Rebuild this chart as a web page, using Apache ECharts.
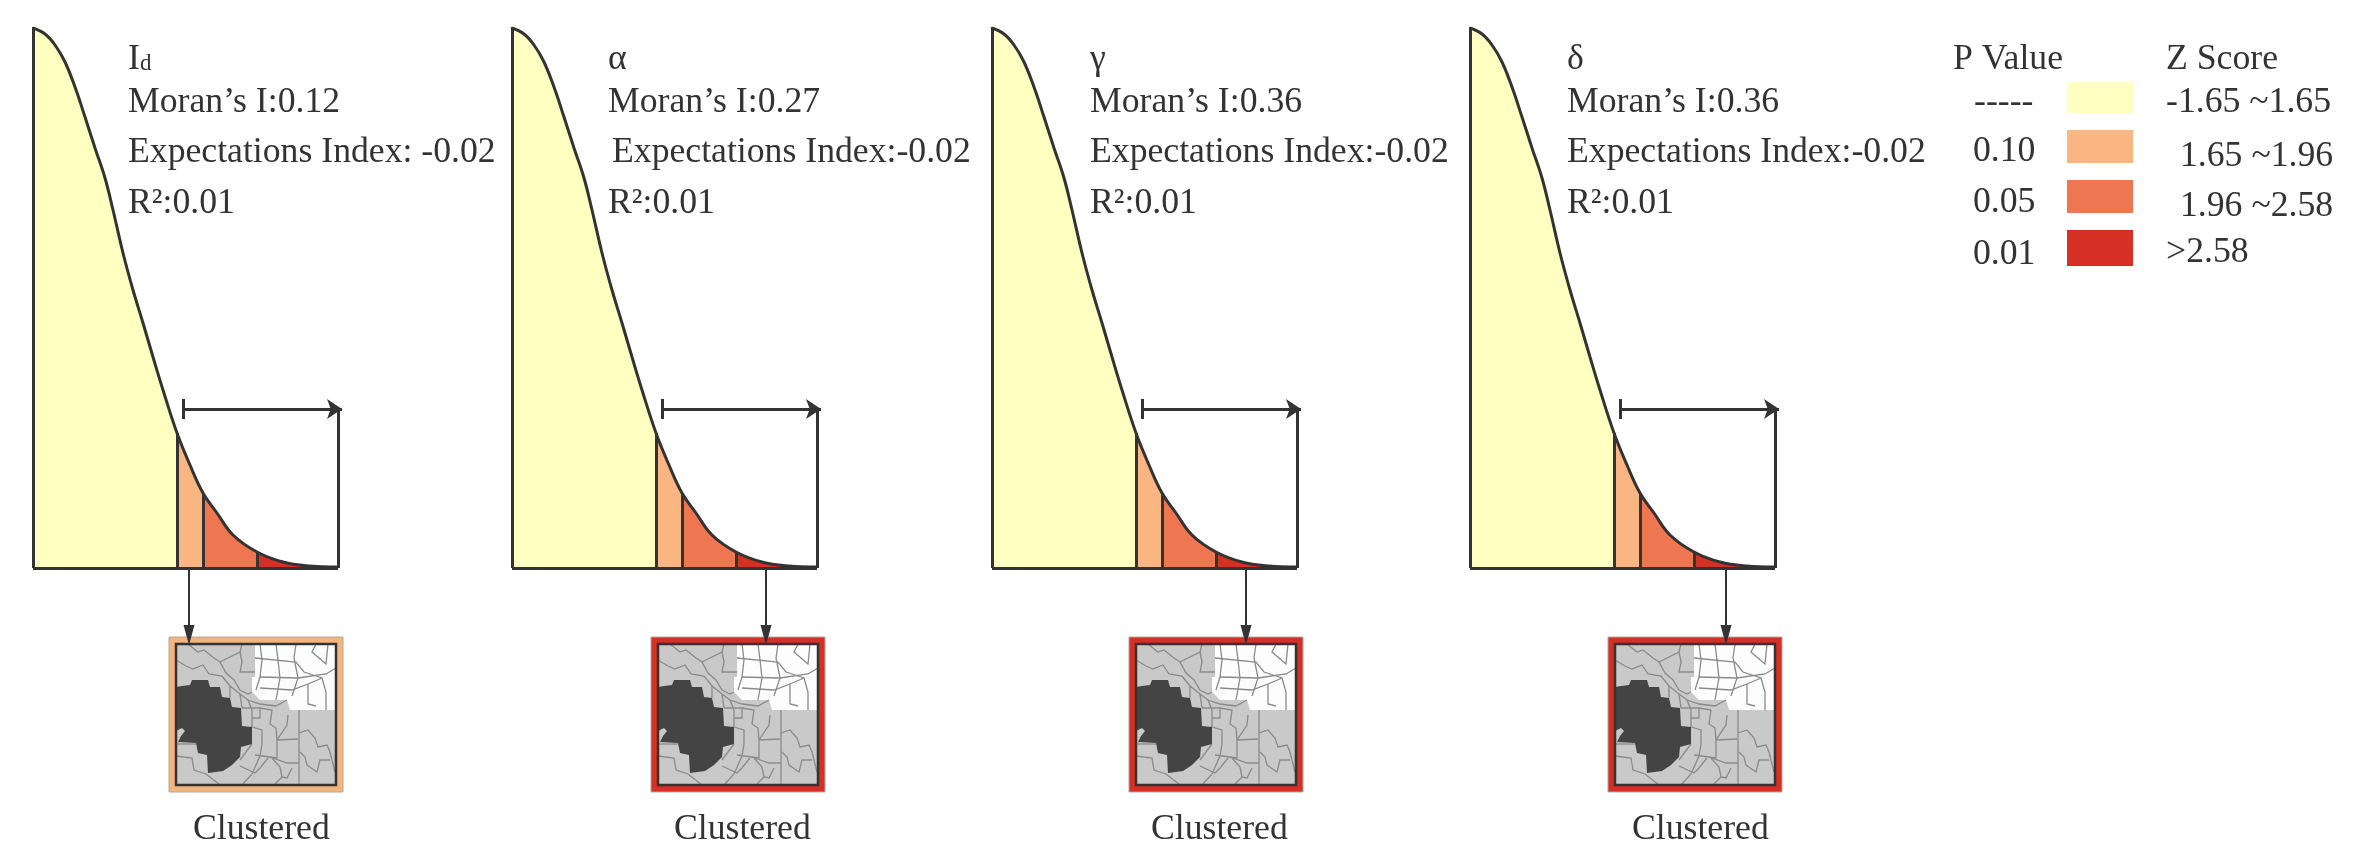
<!DOCTYPE html>
<html>
<head>
<meta charset="utf-8">
<style>html,body{margin:0;padding:0;background:#fff}#c{width:2374px;height:860px;filter:blur(0.6px)}</style>
<script src="https://cdn.jsdelivr.net/npm/echarts@6/dist/echarts.min.js"></script>
</head>
<body>
<div id="c"></div>
<script>
// ---- data ----
const curveX = [0, 12, 22, 32, 42, 52, 62, 72, 80, 90, 100, 110, 120, 130, 144, 157, 170, 184, 200, 224, 250, 277, 305];
const curveY = [540, 534, 523, 506, 481, 451, 420, 390, 358, 315, 278, 245, 211, 178, 135, 103, 75, 55, 33, 16, 6, 2, 1];
const zoneBreaks = [144, 170, 224];
const zoneColors = ['#feffc0', '#f9b683', '#ee7651', '#d62f23'];
const panelNames = ['I', 'α', 'γ', 'δ'];
const moranLabels = ['Moran’s I:0.12', 'Moran’s I:0.27', 'Moran’s I:0.36', 'Moran’s I:0.36'];
const expectLabels = ['Expectations Index: -0.02', 'Expectations Index:-0.02', 'Expectations Index:-0.02', 'Expectations Index:-0.02'];
const r2Labels = ['R²:0.01', 'R²:0.01', 'R²:0.01', 'R²:0.01'];
const outcomeLabels = ['Clustered', 'Clustered', 'Clustered', 'Clustered'];
const pointerX = [156, 254, 254, 256];
const frameColors = ['#f4b47e', '#d62f23', '#d62f23', '#d62f23'];
const legendP = ['-----', '0.10', '0.05', '0.01'];
const legendZ = ['-1.65 ~1.65', '1.65 ~1.96', '1.96 ~2.58', '>2.58'];

const mapDark = [[0,43],[6,42],[14,41],[16,36],[32,36],[34,43],[44,43],[46,53],[54,54],[56,63],[65,64],[66,82],[76,83],[76,100],[65,103],[64,113],[56,121],[47,127],[32,129],[31,111],[22,109],[20,99],[2,98],[5,92],[9,87],[6,84],[0,87]];
const mapWhite = [[79,0],[160,0],[160,66],[114,66],[111,56],[84,56],[76,48],[76,33],[79,33]];
const mapLines = [
  [[0,16],[10,22],[17,25],[27,21],[33,30],[46,32],[54,42],[64,50],[72,56],[84,60],[100,62],[111,56]],
  [[12,0],[22,8],[28,6],[38,14],[44,18],[50,29],[58,36],[64,46],[72,50],[76,48]],
  [[44,18],[52,14],[64,8],[66,0]],
  [[64,8],[66,18],[64,28],[79,28]],
  [[54,42],[54,54]],[[64,50],[66,64]],[[72,56],[76,66],[76,83]],
  [[66,64],[84,64],[84,74],[76,74]],[[84,64],[96,66],[94,80],[100,84],[101,96]],
  [[76,83],[86,86],[86,100],[84,112],[76,130],[66,141]],
  [[0,112],[16,114],[18,126],[30,130],[44,141]],[[0,100],[20,100]],
  [[76,100],[70,108],[64,116]],
  [[123,66],[123,141]],
  [[123,89],[132,86],[139,94],[142,103],[151,101],[154,108],[159,128]],
  [[124,108],[129,113],[131,121],[141,128],[144,116],[154,116]],
  [[112,71],[111,81],[101,96],[101,114],[94,113],[79,111]],
  [[101,96],[122,95]],[[94,113],[111,119],[123,119]],
  [[96,114],[104,123],[106,133],[111,134],[116,124]],
  [[92,114],[84,124],[79,129],[64,122]],[[106,133],[98,141]],
  [[84,0],[86,16],[84,33],[80,46]],[[100,0],[102,16],[104,34],[100,56]],[[120,0],[118,14],[122,34],[116,52]],
  [[79,14],[120,18],[128,28],[146,34],[150,48],[150,66]],
  [[84,33],[122,34],[150,30],[160,24]],[[84,44],[116,46],[132,40],[146,34]],
  [[132,40],[132,60],[140,62]],[[140,0],[136,8],[150,20],[152,0]]
];

// ---- layout ----
const panelLeft = [33, 512, 992, 1470];
const mapLeft = [176, 658, 1136, 1615];
const textX = [128, 608, 1090, 1567];
const expectX = [128, 612, 1090, 1567];
const outcomeX = [263, 744, 1221, 1702];
const font = '"Liberation Serif", "Times New Roman", serif';
const fontSize = 35.7;
const ink = '#333';
const rightX = 305, axisMaxX = 312, arrowY = 159, tickX = 150, tickHalf = 10, floorY = -70, topY = 541, pointerEnd = -67;

const grids = [], xAxes = [], yAxes = [], series = [], graphics = [];

function addText(x, y, text, opts) {
  graphics.push({
    type: 'text', left: x, top: y - 20, silent: true,
    style: Object.assign({ text: text, font: fontSize + 'px ' + font, fill: ink, lineHeight: 40, height: 40, verticalAlign: 'top' }, opts || {})
  });
}

panelLeft.forEach(function (left, i) {
  const c = 2 * i;
  grids.push({ left: left, top: 27, width: axisMaxX, height: topY - floorY });
  xAxes.push({ type: 'value', gridIndex: c, min: 0, max: axisMaxX, show: false });
  yAxes.push({ type: 'value', gridIndex: c, min: floorY, max: topY, show: false });
  const curve = curveX.map(function (x, k) { return [x, curveY[k]]; });
  const dividerLines = zoneBreaks.map(function (b) {
    const k = curveX.indexOf(b);
    return [{ coord: [b, 0] }, { coord: [b, curveY[k]] }];
  });
  series.push({
    type: 'line', xAxisIndex: c, yAxisIndex: c, data: curve, smooth: 0.4, symbol: 'none', silent: true,
    lineStyle: { color: ink, width: 3 }, areaStyle: { opacity: 1, origin: 0 },
    markLine: {
      silent: true, symbol: 'none', animation: false, symbolSize: 15,
      label: { show: false }, emphasis: { disabled: true },
      lineStyle: { color: ink, width: 3, type: 'solid', opacity: 1 },
      data: dividerLines.concat([
        [{ coord: [0, 0] }, { coord: [0, topY] }],
        [{ coord: [0, 0] }, { coord: [rightX, 0] }],
        [{ coord: [rightX, 0] }, { coord: [rightX, arrowY] }],
        [{ coord: [tickX, arrowY - tickHalf] }, { coord: [tickX, arrowY + tickHalf] }],
        [{ coord: [tickX, arrowY], symbol: 'none' }, { coord: [rightX + 4, arrowY], symbol: 'arrow', symbolSize: 15 }],
        [{ coord: [pointerX[i], 0], symbol: 'none' }, { coord: [pointerX[i], pointerEnd], symbol: 'triangle', symbolSize: [11, 20], lineStyle: { width: 2 } }]
      ])
    }
  });

  // map thumbnail in its own 160 x 141 grid
  const g = 2 * i + 1;
  grids.push({ left: mapLeft[i], top: 644, width: 160, height: 141 });
  xAxes.push({ type: 'value', gridIndex: g, min: 0, max: 160, show: false });
  yAxes.push({ type: 'value', gridIndex: g, min: 0, max: 141, inverse: true, show: false });
  series.push({
    type: 'custom', xAxisIndex: g, yAxisIndex: g, silent: true, clip: false, data: [[0, 0]],
    renderItem: function (params, api) {
      const pts = function (a) { return a.map(function (p) { return api.coord(p); }); };
      const a = api.coord([0, 0]);
      const ch = [
        { type: 'rect', shape: { x: a[0] - 7, y: a[1] - 7, width: 174, height: 155 },
          style: { fill: frameColors[i], stroke: '#b0a89f', lineWidth: 1 } },
        { type: 'rect', shape: { x: a[0], y: a[1], width: 160, height: 141 }, style: { fill: '#c9c9c9' } },
        { type: 'polygon', shape: { points: pts(mapWhite) }, style: { fill: '#fdfdfd' } }
      ];
      mapLines.forEach(function (l) {
        ch.push({ type: 'polyline', shape: { points: pts(l) }, style: { fill: 'none', stroke: '#8a8a8a', lineWidth: 1.3 } });
      });
      ch.push({ type: 'polygon', shape: { points: pts(mapDark) }, style: { fill: '#444' } });
      ch.push({ type: 'rect', shape: { x: a[0], y: a[1], width: 160, height: 141 }, style: { fill: 'none', stroke: '#333', lineWidth: 2.5 } });
      return { type: 'group', children: ch };
    }
  });

  // captions
  if (i === 0) {
    addText(textX[i], 60, '{m|I}{s|d}', { rich: { m: { font: fontSize + 'px ' + font, fill: ink }, s: { font: '23px ' + font, fill: ink, padding: [8, 0, 0, 0] } } });
  } else {
    addText(textX[i], 60, panelNames[i]);
  }
  addText(textX[i], 103, moranLabels[i]);
  addText(expectX[i], 153, expectLabels[i]);
  addText(textX[i], 204, r2Labels[i]);
  graphics.push({
    type: 'text', left: outcomeX[i] - 70, top: 810, silent: true,
    style: { text: outcomeLabels[i], font: fontSize + 'px ' + font, fill: ink, width: 140, align: 'center', lineHeight: 40 }
  });
});

// legend
const swatchTop = [82, 130, 180, 230], swatchH = [31, 33, 33, 36], legPX = [1974, 1973, 1973, 1973], legZX = [2166, 2180, 2180, 2166];
const legPY = [103, 152, 203, 255], legZY = [103, 157, 207, 253];
addText(1953, 60, 'P Value');
addText(2166, 60, 'Z Score');
zoneColors.forEach(function (c, k) {
  graphics.push({ type: 'rect', silent: true, left: 2067, top: swatchTop[k], shape: { width: 66, height: swatchH[k] }, style: { fill: c } });
  addText(legPX[k], legPY[k], legendP[k]);
  addText(legZX[k], legZY[k], legendZ[k]);
});

const pieces = zoneColors.map(function (c, k) {
  const p = { color: c };
  if (k > 0) p.min = zoneBreaks[k - 1];
  if (k < zoneBreaks.length) p.max = zoneBreaks[k];
  return p;
});

const chart = echarts.init(document.getElementById('c'), null, { renderer: 'canvas' });
chart.setOption({
  animation: false,
  backgroundColor: '#fff',
  grid: grids, xAxis: xAxes, yAxis: yAxes,
  visualMap: [{ type: 'piecewise', show: false, dimension: 0, seriesIndex: [0, 2, 4, 6], pieces: pieces }],
  series: series,
  graphic: graphics
});
</script>
</body>
</html>
